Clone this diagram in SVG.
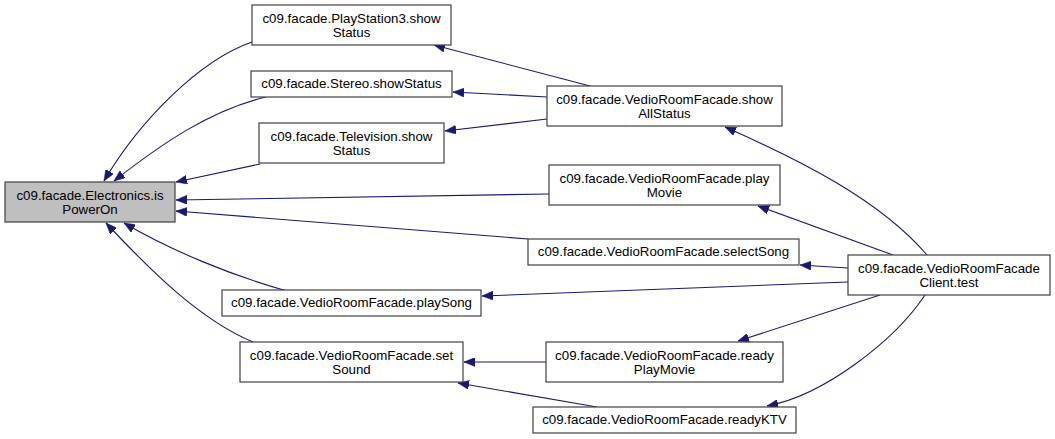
<svg xmlns="http://www.w3.org/2000/svg" width="1055" height="439" viewBox="0 0 1055 439">
<style>
.box{fill:#ffffff;stroke:#404040;stroke-width:1.2}
.hl{fill:#bfbfbf}
text{font-family:"Liberation Sans",Arial,sans-serif;font-size:13.3px;fill:#000;text-anchor:middle}
.e{fill:none;stroke:#191970;stroke-width:1.1}
</style>
<defs>
<marker id="a" markerUnits="userSpaceOnUse" markerWidth="12" markerHeight="9" refX="11" refY="4.5" orient="auto">
<path d="M0,0 L11,4.5 L0,9 z" fill="#191970" stroke="#191970" stroke-width="0.5"/>
</marker>
</defs>
<rect width="1055" height="439" fill="#fff"/>
<g id="edges">
<path class="e" marker-end="url(#a)" d="M252,42 C200,60 140,120 104,181"/>
<path class="e" marker-end="url(#a)" d="M266,97 C210,110 160,145 114,181"/>
<path class="e" marker-end="url(#a)" d="M260,164 L176,182"/>
<path class="e" marker-end="url(#a)" d="M549,194 L176,200"/>
<path class="e" marker-end="url(#a)" d="M528,239 L176,211"/>
<path class="e" marker-end="url(#a)" d="M287,291 C230,275 170,250 124,223"/>
<path class="e" marker-end="url(#a)" d="M253,342 C200,320 150,270 106,223"/>
<path class="e" marker-end="url(#a)" d="M590,86 L434,45"/>
<path class="e" marker-end="url(#a)" d="M547,97 L453,92"/>
<path class="e" marker-end="url(#a)" d="M547,119 L445,131"/>
<path class="e" marker-end="url(#a)" d="M927,255 C880,200 800,160 725,127"/>
<path class="e" marker-end="url(#a)" d="M893,255 L758,206"/>
<path class="e" marker-end="url(#a)" d="M848,268 L800,265"/>
<path class="e" marker-end="url(#a)" d="M848,282 L482,296"/>
<path class="e" marker-end="url(#a)" d="M880,295 L738,341"/>
<path class="e" marker-end="url(#a)" d="M925,295 C895,340 825,395 767,406"/>
<path class="e" marker-end="url(#a)" d="M546,362 L464,362"/>
<path class="e" marker-end="url(#a)" d="M597,407 L458,383"/>
</g>
<g id="n_isPowerOn">
<rect class="box hl" x="5" y="182" width="170" height="40"/>
<text x="90" y="199.5">c09.facade.Electronics.is</text>
<text x="90" y="213.5">PowerOn</text>
</g>
<g id="n_ps3">
<rect class="box" x="252" y="5" width="199" height="40"/>
<text x="351.5" y="22.5">c09.facade.PlayStation3.show</text>
<text x="351.5" y="36.5">Status</text>
</g>
<g id="n_stereo">
<rect class="box" x="251" y="71" width="201" height="26"/>
<text x="351.5" y="88">c09.facade.Stereo.showStatus</text>
</g>
<g id="n_tv">
<rect class="box" x="259" y="123" width="185" height="40"/>
<text x="351.5" y="140.5">c09.facade.Television.show</text>
<text x="351.5" y="154.5">Status</text>
</g>
<g id="n_showAll">
<rect class="box" x="547" y="86" width="235" height="40"/>
<text x="664.5" y="103.5">c09.facade.VedioRoomFacade.show</text>
<text x="664.5" y="117.5">AllStatus</text>
</g>
<g id="n_playMovie">
<rect class="box" x="549" y="165" width="231" height="40"/>
<text x="664.5" y="182.5">c09.facade.VedioRoomFacade.play</text>
<text x="664.5" y="196.5">Movie</text>
</g>
<g id="n_selectSong">
<rect class="box" x="528" y="239" width="271" height="26"/>
<text x="663.5" y="256">c09.facade.VedioRoomFacade.selectSong</text>
</g>
<g id="n_playSong">
<rect class="box" x="222" y="290" width="259" height="26"/>
<text x="351.5" y="307">c09.facade.VedioRoomFacade.playSong</text>
</g>
<g id="n_setSound">
<rect class="box" x="240" y="342" width="223" height="40"/>
<text x="351.5" y="359.5">c09.facade.VedioRoomFacade.set</text>
<text x="351.5" y="373.5">Sound</text>
</g>
<g id="n_readyPlayMovie">
<rect class="box" x="546" y="342" width="237" height="40"/>
<text x="664.5" y="359.5">c09.facade.VedioRoomFacade.ready</text>
<text x="664.5" y="373.5">PlayMovie</text>
</g>
<g id="n_readyKTV">
<rect class="box" x="533" y="407" width="263" height="26"/>
<text x="664.5" y="424">c09.facade.VedioRoomFacade.readyKTV</text>
</g>
<g id="n_client">
<rect class="box" x="848" y="255" width="202" height="40"/>
<text x="949" y="272.5">c09.facade.VedioRoomFacade</text>
<text x="949" y="286.5">Client.test</text>
</g>
</svg>
